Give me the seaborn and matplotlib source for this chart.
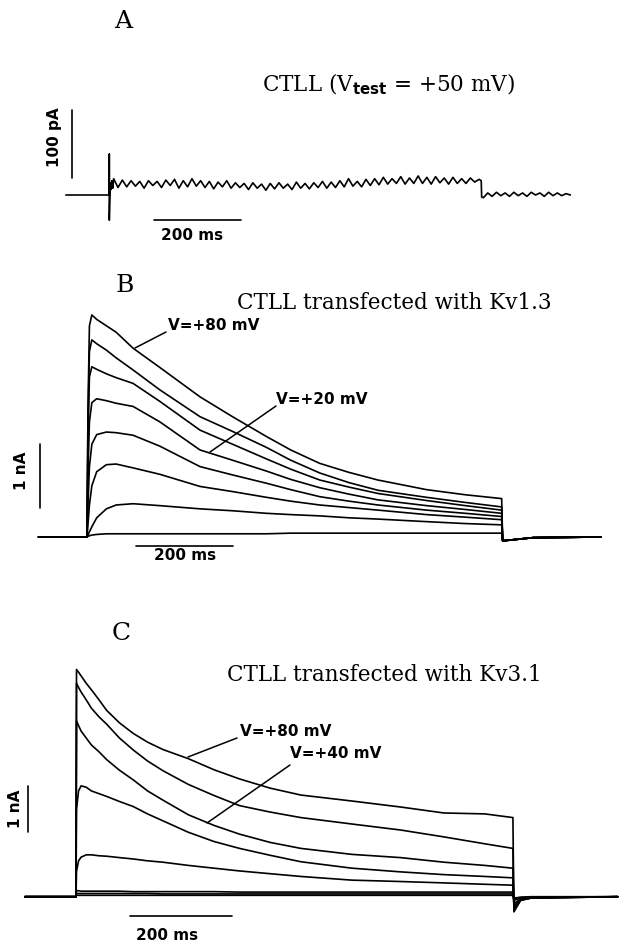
import pandas as pd
import seaborn as sns
import matplotlib.pyplot as plt

# ---------------- data ----------------
# Panel A: untransfected CTLL, Vtest = +50 mV, current in pA
a_time = [-100, 0, 0, 0, 2, 4, 6, 8] + list(range(10, 851, 10)) + [855, 856] + list(range(860, 1061, 10))
a_onset = [0, 0, 60, -37, 18, 8, 21, 10]
a_pulse = [24, 11, 22, 12, 21, 13, 20, 10, 21, 14,
           20, 11, 22, 14, 23, 10, 21, 12, 24, 13,
           21, 11, 20, 9, 19, 12, 21, 10, 18, 11,
           17, 8, 18, 10, 16, 7, 17, 9, 18, 10,
           16, 8, 19, 10, 17, 9, 18, 11, 20, 10,
           19, 11, 21, 12, 24, 13, 20, 12, 23, 14,
           24, 15, 26, 16, 24, 17, 27, 16, 25, 17,
           28, 17, 26, 16, 27, 18, 25, 16, 26, 17,
           24, 17, 25, 19, 23]
a_end = [21, -3]
a_tail = [-4, 3, -2, 4, -1, 3, -2, 4, -1, 3, -2, 4, 0, 3, -2, 4, -1, 3, -1, 2, 0]

# Panel B: CTLL + Kv1.3, current in nA
b_time = [-100, 0, 2, 5, 10, 20, 40, 60, 95, 150, 233, 300, 370, 420, 480, 540, 600, 700, 780, 855, 857, 920, 1060]
b_p80 = [0, 0, 2.0, 3.3, 3.47, 3.40, 3.30, 3.20, 2.95, 2.65, 2.19, 1.88, 1.57, 1.36, 1.15, 1.01, 0.89, 0.74, 0.66, 0.60, -0.06, -0.01, 0]
b_p60 = [0, 0, 1.8, 2.9, 3.08, 3.02, 2.92, 2.80, 2.61, 2.30, 1.88, 1.65, 1.40, 1.20, 1.00, 0.85, 0.73, 0.62, 0.54, 0.47, -0.06, -0.01, 0]
b_p40 = [0, 0, 1.5, 2.5, 2.66, 2.62, 2.55, 2.49, 2.40, 2.12, 1.67, 1.45, 1.22, 1.06, 0.89, 0.78, 0.68, 0.57, 0.49, 0.42, -0.06, -0.01, 0]
b_p20 = [0, 0, 1.0, 1.8, 2.10, 2.16, 2.13, 2.09, 2.04, 1.80, 1.36, 1.20, 1.03, 0.90, 0.77, 0.67, 0.58, 0.49, 0.43, 0.37, -0.06, -0.01, 0]
b_0 = [0, 0, 0.5, 1.1, 1.45, 1.60, 1.64, 1.63, 1.59, 1.42, 1.10, 0.97, 0.84, 0.74, 0.63, 0.56, 0.50, 0.42, 0.37, 0.32, -0.06, -0.01, 0]
b_m20 = [0, 0, 0.2, 0.5, 0.8, 1.02, 1.13, 1.14, 1.08, 0.98, 0.79, 0.71, 0.62, 0.56, 0.50, 0.46, 0.42, 0.35, 0.31, 0.27, -0.06, -0.01, 0]
b_m40 = [0, 0, 0.03, 0.08, 0.16, 0.30, 0.44, 0.50, 0.52, 0.49, 0.44, 0.41, 0.37, 0.35, 0.33, 0.30, 0.28, 0.24, 0.21, 0.19, -0.06, -0.01, 0]
b_m60 = [0, 0, 0.01, 0.02, 0.03, 0.04, 0.05, 0.05, 0.05, 0.05, 0.05, 0.05, 0.05, 0.06, 0.06, 0.06, 0.06, 0.06, 0.06, 0.06, -0.06, -0.01, 0]

# Panel C: CTLL + Kv3.1, current in nA
c_time = [-100, 0, 1, 5, 10, 20, 30, 45, 60, 85, 112, 140, 170, 220, 270, 320, 380, 440, 540, 635, 720, 800, 855,
          857, 870, 890, 1060]
c_p80 = [0, 0, 4.94, 4.88, 4.80, 4.64, 4.50, 4.28, 4.05, 3.78, 3.55, 3.36, 3.20, 3.00, 2.76, 2.56, 2.36, 2.21, 2.08,
         1.95, 1.82, 1.80, 1.72, -0.33, -0.08, -0.03, 0]
c_p60 = [0, 0, 4.64, 4.55, 4.45, 4.28, 4.10, 3.91, 3.75, 3.45, 3.19, 2.95, 2.74, 2.44, 2.20, 1.98, 1.84, 1.72, 1.58,
         1.45, 1.30, 1.15, 1.05, -0.30, -0.08, -0.03, 0]
c_p40 = [0, 0, 3.82, 3.72, 3.60, 3.45, 3.30, 3.15, 2.98, 2.75, 2.54, 2.30, 2.10, 1.78, 1.55, 1.36, 1.18, 1.05, 0.92,
         0.85, 0.75, 0.68, 0.62, -0.25, -0.07, -0.03, 0]
c_p20 = [0, 0, 1.90, 2.30, 2.41, 2.38, 2.30, 2.24, 2.18, 2.07, 1.96, 1.80, 1.65, 1.40, 1.20, 1.05, 0.90, 0.76, 0.62,
         0.54, 0.48, 0.44, 0.41, -0.20, -0.06, -0.02, 0]
c_0 = [0, 0, 0.55, 0.78, 0.86, 0.91, 0.91, 0.89, 0.88, 0.85, 0.82, 0.78, 0.75, 0.68, 0.62, 0.56, 0.50, 0.44, 0.36,
       0.33, 0.30, 0.27, 0.25, -0.15, -0.05, -0.02, 0]
c_m20 = [0, 0, 0.13, 0.13, 0.12, 0.12, 0.12, 0.12, 0.12, 0.12, 0.11, 0.11, 0.11, 0.11, 0.11, 0.10, 0.10, 0.10, 0.10,
         0.10, 0.10, 0.10, 0.10, -0.08, -0.03, -0.01, 0]
c_m40 = [0, 0, 0.07, 0.07, 0.07, 0.07, 0.07, 0.07, 0.07, 0.07, 0.07, 0.07, 0.06, 0.06, 0.06, 0.06, 0.06, 0.06, 0.06,
         0.06, 0.06, 0.06, 0.06, -0.05, -0.02, -0.01, 0]
c_m60 = [0, 0, 0.03, 0.03, 0.03, 0.03, 0.03, 0.03, 0.03, 0.03, 0.03, 0.03, 0.03, 0.03, 0.03, 0.03, 0.03, 0.03, 0.03,
         0.03, 0.03, 0.03, 0.03, -0.03, -0.01, 0, 0]

# scale bars (ms, pA / nA)
bar_ms = 200
bar_pa = 100
bar_na = 1

# ---------------- figure ----------------
W, H = 625, 943
sns.set_style('white')
plt.rcParams['font.family'] = ['DejaVu Sans']
fig = plt.figure(figsize=(W / 100, H / 100), dpi=100)


def panel_axes(x0, sx, y0, sy):
    # full-figure transparent axes; x0/y0 = pixel of (t=0, I=0), sx/sy = px per unit
    ax = fig.add_axes([0, 0, 1, 1])
    ax.set_xlim(-x0 / sx, (W - x0) / sx)
    ax.set_ylim((y0 - H) / sy, y0 / sy)
    ax.axis('off')
    ax.patch.set_alpha(0)
    return ax


def draw_traces(ax, time, sweeps):
    df = pd.concat([pd.DataFrame({'t': time, 'i': v, 'sweep': k}) for k, v in sweeps.items()])
    sns.lineplot(data=df, x='t', y='i', units='sweep', estimator=None, sort=False,
                 color='black', lw=1.2, ax=ax, legend=False)


def scale_bars(ax, tv, v0, vlen, t0, ty):
    ax.plot([tv, tv], [v0, v0 + vlen], color='black', lw=1.2)
    ax.plot([t0, t0 + bar_ms], [ty, ty], color='black', lw=1.2)


axA = panel_axes(109.3, 0.435, 195, 0.68)
draw_traces(axA, a_time, {'A': a_onset + a_pulse + a_end + a_tail})
scale_bars(axA, -85, 25, bar_pa, 103, -37)

axB = panel_axes(87, 0.485, 537, 64)
draw_traces(axB, b_time, {'+80': b_p80, '+60': b_p60, '+40': b_p40, '+20': b_p20,
                          '0': b_0, '-20': b_m20, '-40': b_m40, '-60': b_m60})
scale_bars(axB, -97, 0.45, bar_na, 100, -0.135)

axC = panel_axes(76, 0.511, 896.7, 46)
draw_traces(axC, c_time, {'+80': c_p80, '+60': c_p60, '+40': c_p40, '+20': c_p20,
                          '0': c_0, '-20': c_m20, '-40': c_m40, '-60': c_m60})
scale_bars(axC, -93, 1.41, bar_na, 106, -0.41)

# overlay in pixel coordinates for labels
ov = fig.add_axes([0, 0, 1, 1])
ov.set_xlim(0, W)
ov.set_ylim(H, 0)
ov.axis('off')
ov.patch.set_alpha(0)

serif = dict(family='DejaVu Serif', color='black')
for letter, x, y in [('A', 123, 21), ('B', 125, 285), ('C', 121, 634)]:
    ov.text(x, y, letter, ha='center', va='center', fontsize=18, **serif)

ov.text(262, 84, r'CTLL (V$_{\bf test}$ = +50 mV)', ha='left', va='center', fontsize=15.5, **serif)
ov.text(237, 303, 'CTLL transfected with Kv1.3', ha='left', va='center', fontsize=15.5, **serif)
ov.text(227, 675, 'CTLL transfected with Kv3.1', ha='left', va='center', fontsize=15.5, **serif)

bold = dict(fontsize=11, fontweight='bold', color='black')
for txt, x, y in [('V=+80 mV', 168, 325), ('V=+20 mV', 276, 400),
                  ('V=+80 mV', 240, 732), ('V=+40 mV', 290, 753)]:
    ov.text(x, y, txt, ha='left', va='center', **bold)
for (x1, y1), (x2, y2) in [((135, 348), (166, 332)), ((210, 452), (276, 406)),
                           ((188, 757), (237, 738)), ((207, 823), (290, 765))]:
    ov.plot([x1, x2], [y1, y2], color='black', lw=1.1)

for txt, x, y in [('200 ms', 192, 235), ('200 ms', 185, 556), ('200 ms', 167, 935)]:
    ov.text(x, y, txt, ha='center', va='center', **bold)
for txt, x, y in [('100 pA', 55, 137), ('1 nA', 22, 471), ('1 nA', 15, 809)]:
    ov.text(x, y, txt, ha='center', va='center', rotation=90, **bold)

fig.savefig('out.png', dpi=100)
